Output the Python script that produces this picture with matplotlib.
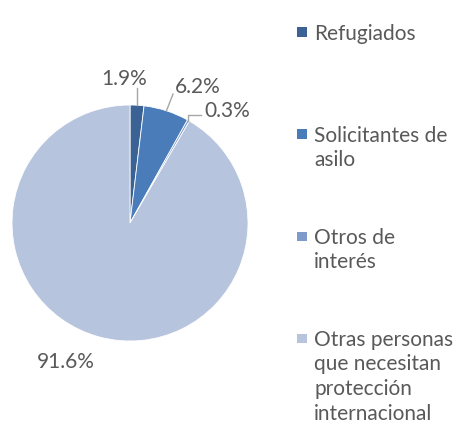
import numpy as np
import matplotlib.pyplot as plt
from matplotlib.patches import Rectangle

plt.rcParams["font.family"] = ["Lato", "DejaVu Sans"]

categories = [
    "Refugiados",
    "Solicitantes de\nasilo",
    "Otros de\ninterés",
    "Otras personas\nque necesitan\nprotección\ninternacional",
]
shares = [1.9, 6.2, 0.3, 91.6]
pct_labels = ["1.9%", "6.2%", "0.3%", "91.6%"]
colors = ["#3A6294", "#4A7CBA", "#7D9ACB", "#B6C4DE"]

W, H = 458, 426
TEXT = "#595959"
LINE = "#A6A6A6"
FS = 15

fig = plt.figure(figsize=(W / 100, H / 100), dpi=100)

# pie: centre (130, 223) px, radius 118 px
cx, cy, r = 130, 223, 118
ax = fig.add_axes([(cx - r) / W, (H - cy - r) / H, 2 * r / W, 2 * r / H])
wedges, _ = ax.pie(shares, colors=colors, startangle=90, counterclock=False,
                   radius=1, wedgeprops=dict(edgecolor="white", linewidth=0.6))
ax.set_xlim(-1, 1)
ax.set_ylim(-1, 1)
ax.set_aspect("equal")
ax.axis("off")


def px(x, y):
    # pixel coords (from top-left) -> data coords of the pie axes
    return (x - cx) / r, (cy - y) / r


def edge(w):
    t = np.deg2rad((w.theta1 + w.theta2) / 2)
    return np.cos(t), np.sin(t)


# 1.9% : vertical leader
ex, ey = edge(wedges[0])
ax.plot([ex, ex], [ey, px(0, 88)[1]], color=LINE, lw=1, clip_on=False)
tx, ty = px(124, 85)
ax.text(tx, ty, pct_labels[0], ha="center", va="baseline", fontsize=FS, color=TEXT)

# 6.2% : slanted leader
ex, ey = edge(wedges[1])
lx, ly = px(173, 94)
ax.plot([ex, lx], [ey, ly], color=LINE, lw=1, clip_on=False)
tx, ty = px(175, 93)
ax.text(tx, ty, pct_labels[1], ha="left", va="baseline", fontsize=FS, color=TEXT)

# 0.3% : elbow leader
ex, ey = edge(wedges[2])
_, ky = px(0, 115)
kx, _ = px(201, 0)
ax.plot([ex, ex, kx], [ey, ky, ky], color=LINE, lw=1, clip_on=False)
tx, ty = px(204, 117)
ax.text(tx, ty, pct_labels[2], ha="left", va="baseline", fontsize=FS, color=TEXT)

# 91.6% : no leader
tx, ty = px(66, 368)
ax.text(tx, ty, pct_labels[3], ha="center", va="baseline", fontsize=FS, color=TEXT)

# legend (one text per line, 24.5 px line pitch)
base0, step, pitch = 40, 102, 24.5
for i, (lab, col) in enumerate(zip(categories, colors)):
    b = base0 + i * step
    fig.add_artist(Rectangle((297 / W, (H - b + 3) / H), 9.5 / W, 9.5 / H,
                             transform=fig.transFigure, facecolor=col,
                             edgecolor="none"))
    for j, line in enumerate(lab.split("\n")):
        fig.text(314 / W, (H - b - j * pitch) / H, line, ha="left",
                 va="baseline", fontsize=FS, color=TEXT)

fig.savefig("out.png", dpi=100, facecolor="white")
